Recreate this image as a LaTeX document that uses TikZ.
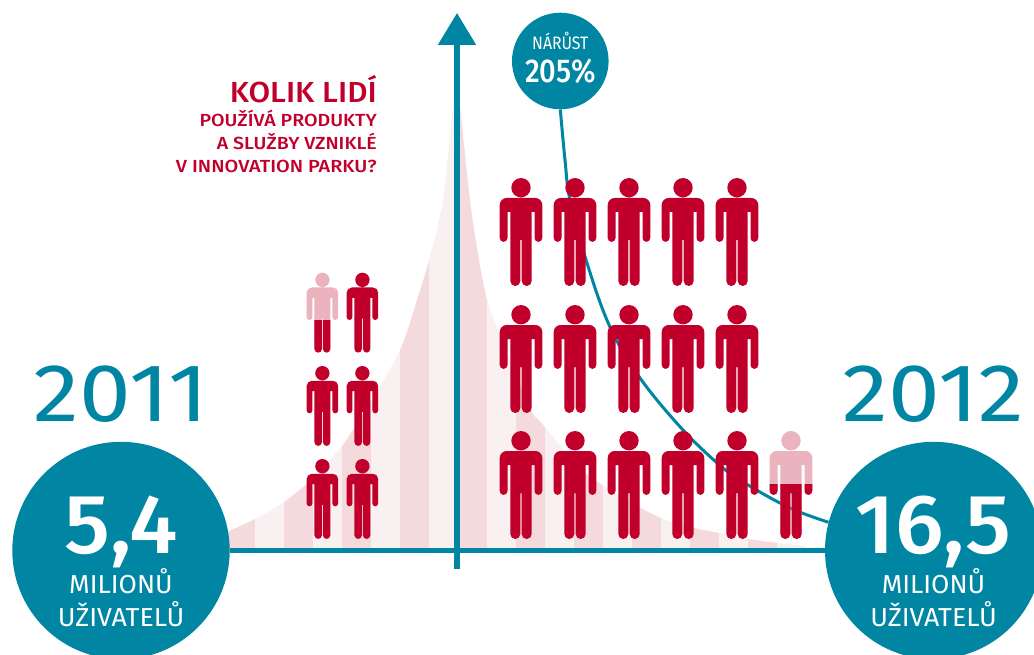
\documentclass[tikz,border=0pt]{standalone}
\usepackage{fontspec}
\usepackage{graphicx}
\usetikzlibrary{arrows.meta}
\setmainfont{Fira Sans}
\newfontfamily\fb{Fira Sans}
\newfontfamily\fm{Fira Sans Medium}
\definecolor{teal1}{HTML}{0085A3}
\definecolor{red1}{HTML}{C0002A}
\definecolor{red2}{HTML}{EAB3BD}
\definecolor{bard}{HTML}{F4D9DD}
\definecolor{barl}{HTML}{F8F0F1}
\tikzset{
  disc/.style={circle,fill=teal1,inner sep=0pt,minimum size=#1},
  txt/.style={inner sep=0pt,anchor=base},
  ttl/.style={inner sep=0pt,anchor=base east,text=red1},
  wht/.style={txt,text=white},
  yr/.style={txt,text=teal1},
  axisline/.style={teal1,line width=5.5pt},
}
\newcommand{\manshape}{
  (-21.3,27) arc[start angle=180,end angle=270,radius=7] -- (14.3,20)
  arc[start angle=270,end angle=360,radius=7] -- (21.3,60)
  arc[start angle=0,end angle=180,radius=3.9] -- (13.5,34) -- (10.7,34) -- (10.7,103)
  arc[start angle=0,end angle=180,radius=5] -- (0.7,62) -- (-0.7,62) -- (-0.7,103)
  arc[start angle=0,end angle=180,radius=5] -- (-10.7,34) -- (-13.5,34) -- (-13.5,60)
  arc[start angle=0,end angle=180,radius=3.9] -- cycle
  (0,9.7) circle[radius=9.7]
}
\newcommand{\man}[4][red1]{\fill[#1,shift={(#2,#3)},scale=#4] \manshape;}
\newcommand{\manhalf}[4]{\man[red2]{#1}{#2}{#3}
  \begin{scope}\clip (0,#4) rectangle (1034,655);\man{#1}{#2}{#3}\end{scope}}
\newcommand{\hsc}[2]{\scalebox{#1}[1]{#2}}
\begin{document}
\begin{tikzpicture}[x=1pt,y=-1pt]
\useasboundingbox (0,0) rectangle (1034,655);
% area
\begin{scope}
\clip plot[smooth,tension=0.5] coordinates {(225,533)(229,531)(255,519)(284,502)(313,478)(342,446)(371,401)(400,350)(417,300)(429,260)(443,200)(453,107)(457,90)
 (460,107)(470,200)(479,260)(488,303)(500,335)(516,375)(532,412)(545,427)(574,462)(595,480)(632,503)(661,518)(690,527)(719,533)(748,539)(778,543)(807,546)(830,548)} -- (830,552) -- (225,552) -- cycle;
\foreach \i in {0,...,9}{
  \fill[bard] ({225.7+58*\i},80) rectangle ({254.7+58*\i},552);
  \fill[barl] ({254.7+58*\i},80) rectangle ({283.7+58*\i},552);
}
\end{scope}
% discs
\node[disc=217.4pt] (left) at (121,550.5) {};
\node[disc=217.4pt] (right) at (933.7,550.5) {};
\node[disc=96.6pt] (growth) at (560.3,61) {};
% axes
\coordinate (axisbot) at (457,569);
\coordinate (axistop) at (457,13);
\draw[axisline] (left.east) -- (right.west);
\draw[axisline,-{Triangle[width=37pt,length=32pt]}] (axisbot) -- (axistop);
% curve
\draw[teal1,line width=3pt] plot[smooth,tension=0.6] coordinates {(growth.south)(565,160)(570,200)(587,263)(610,327)(640,378)(683,430)(723,468)(748,485)(790,508)(right.165)};
% people right
\foreach \x in {521,575,629,683,737}{
  \foreach \y in {178,305,431}{\man{\x}{\y}{1}}
}
\manhalf{791}{431}{1}{484}
% people left
\manhalf{322.4}{272.7}{0.74}{320}
\man{362.4}{272.7}{0.74}
\foreach \x in {322.4,362.4}{\foreach \y in {366,459}{\man{\x}{\y}{0.74}}}
% texts
\node[yr,font=\fb\fontsize{82}{82}\selectfont] (y1) at (121,421) {\hsc{1.13}{2011}};
\node[yr,font=\fb\fontsize{82}{82}\selectfont] (y2) at (933.5,421) {\hsc{1.13}{2012}};
\node[wht,font=\fm\fontsize{84}{84}\selectfont] (n1) at (121,553) {\hsc{1.05}{5,4}};
\node[wht,font=\fm\fontsize{84}{84}\selectfont] (n2) at (933.5,553) {\hsc{1.05}{16,5}};
\node[wht,font=\fb\fontsize{26}{26}\selectfont] (m1) at (121,593) {\hsc{1.02}{MILIONŮ}};
\node[wht,font=\fb\fontsize{26}{26}\selectfont] (u1) at (121,626) {\hsc{1.03}{UŽIVATELŮ}};
\node[wht,font=\fb\fontsize{26}{26}\selectfont] (m2) at (933.5,593) {\hsc{1.02}{MILIONŮ}};
\node[wht,font=\fb\fontsize{26}{26}\selectfont] (u2) at (933.5,626) {\hsc{1.03}{UŽIVATELŮ}};
\node[wht,font=\fb\fontsize{18}{18}\selectfont] (nt) at (560.3,50) {\hsc{0.88}{NÁRŮST}};
\node[wht,font=\fm\fontsize{33}{33}\selectfont] (pc) at (560.3,83) {\hsc{0.88}{205\%}};
\node[ttl,font=\fm\fontsize{29}{29}\selectfont] (t1) at (377,103) {\hsc{1.08}{KOLIK LIDÍ}};
\node[ttl,font=\fm\fontsize{17.5}{17.5}\selectfont] (t2) at (377,126.7) {\hsc{1.12}{POUŽÍVÁ PRODUKTY}};
\node[ttl,font=\fm\fontsize{17.5}{17.5}\selectfont] (t3) at (377,150) {\hsc{1.12}{A SLUŽBY VZNIKLÉ}};
\node[ttl,font=\fm\fontsize{17.5}{17.5}\selectfont] (t4) at (377,172.7) {\hsc{1.135}{V INNOVATION PARKU?}};
\end{tikzpicture}
\end{document}
